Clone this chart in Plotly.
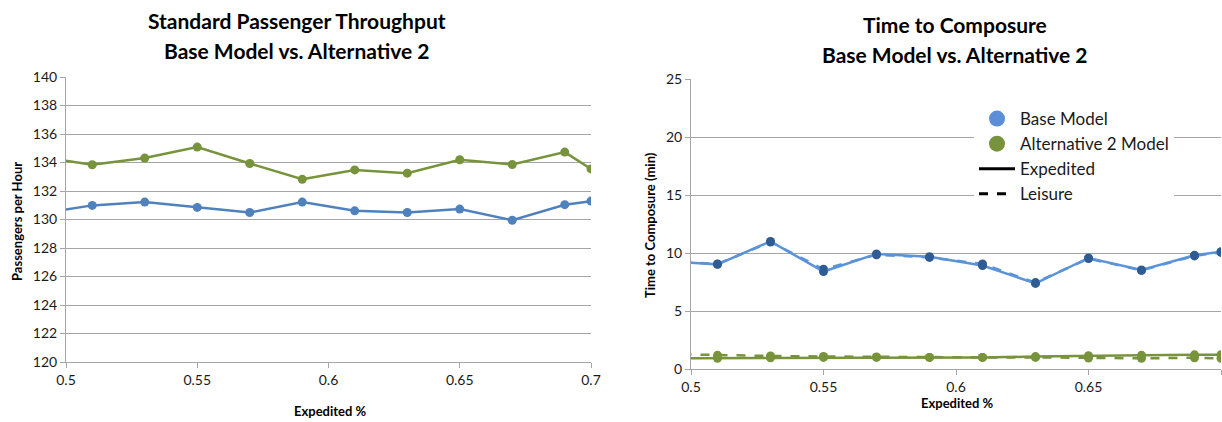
import plotly.graph_objects as go

# ---------------- data ----------------
expedited_pct = [0.49, 0.51, 0.53, 0.55, 0.57, 0.59, 0.61, 0.63, 0.65, 0.67, 0.69, 0.70]

# Standard passenger throughput (passengers per hour)
thr_base = [130.41, 130.99, 131.22, 130.85, 130.49, 131.22, 130.61, 130.49, 130.73, 129.95, 131.04, 131.29]
thr_alt2 = [134.40, 133.84, 134.31, 135.08, 133.93, 132.82, 133.48, 133.25, 134.19, 133.86, 134.73, 133.55]

# Time to composure (min)
ttc_base_exp = [9.32, 9.02, 11.00, 8.40, 9.92, 9.68, 8.92, 7.38, 9.57, 8.53, 9.80, 10.11]
ttc_base_lei = [9.30, 9.05, 10.95, 8.60, 9.85, 9.62, 9.05, 7.45, 9.52, 8.50, 9.75, 10.05]
ttc_alt2_exp = [0.92, 0.93, 0.97, 1.00, 1.00, 1.00, 1.00, 1.07, 1.15, 1.18, 1.22, 1.23]
ttc_alt2_lei = [1.30, 1.18, 1.12, 1.08, 1.04, 1.00, 1.00, 1.00, 0.95, 0.92, 0.97, 0.92]

x_ticks = [0.5, 0.55, 0.6, 0.65, 0.7]
x_ticklabels = ["0.5", "0.55", "0.6", "0.65", "0.7"]
thr_yticks = list(range(120, 141, 2))
ttc_yticks = [0, 5, 10, 15, 20, 25]

# ---------------- style ----------------
W, H = 1222, 422
BLUE = "#4F81BD"
BLUE_LINE_R = "#5B93D8"
BLUE_MARK_R = "#2F5C94"
GREEN = "#77933C"
GRID = "#A6A6A6"
FONT = "Lato"
TXT = "#1a1a1a"


def px_x(p):
    return p / W


def px_y(p):
    return 1 - p / H


fig = go.Figure()

# Left chart
fig.add_trace(go.Scatter(x=expedited_pct, y=thr_base, mode="lines+markers",
                         line=dict(color=BLUE, width=2.5), marker=dict(color=BLUE, size=9),
                         xaxis="x", yaxis="y", showlegend=False))
fig.add_trace(go.Scatter(x=expedited_pct, y=thr_alt2, mode="lines+markers",
                         line=dict(color=GREEN, width=2.5), marker=dict(color=GREEN, size=9),
                         xaxis="x", yaxis="y", showlegend=False))

# Right chart
fig.add_trace(go.Scatter(x=expedited_pct, y=ttc_alt2_lei, mode="lines+markers",
                         line=dict(color=GREEN, width=2.5, dash="dash"), marker=dict(color=GREEN, size=9),
                         xaxis="x2", yaxis="y2", showlegend=False))
fig.add_trace(go.Scatter(x=expedited_pct, y=ttc_alt2_exp, mode="lines+markers",
                         line=dict(color=GREEN, width=2.5), marker=dict(color=GREEN, size=9),
                         xaxis="x2", yaxis="y2", showlegend=False))
fig.add_trace(go.Scatter(x=expedited_pct, y=ttc_base_lei, mode="lines+markers",
                         line=dict(color=BLUE_LINE_R, width=2.5, dash="dash"), marker=dict(color=BLUE_MARK_R, size=9),
                         xaxis="x2", yaxis="y2", showlegend=False))
fig.add_trace(go.Scatter(x=expedited_pct, y=ttc_base_exp, mode="lines+markers",
                         line=dict(color=BLUE_LINE_R, width=2.5), marker=dict(color=BLUE_MARK_R, size=9),
                         xaxis="x2", yaxis="y2", showlegend=False))

# Legend entries
fig.add_trace(go.Scatter(x=[None], y=[None], mode="markers", name="Base Model",
                         marker=dict(color="#5B8ED6", size=18), xaxis="x2", yaxis="y2"))
fig.add_trace(go.Scatter(x=[None], y=[None], mode="markers", name="Alternative 2 Model",
                         marker=dict(color=GREEN, size=18), xaxis="x2", yaxis="y2"))
fig.add_trace(go.Scatter(x=[None], y=[None], mode="lines", name="Expedited",
                         line=dict(color="black", width=3), xaxis="x2", yaxis="y2"))
fig.add_trace(go.Scatter(x=[None], y=[None], mode="lines", name="Leisure",
                         line=dict(color="black", width=3, dash="dash"), xaxis="x2", yaxis="y2"))

axis_common = dict(showline=True, linecolor=GRID, linewidth=1, ticks="outside", ticklen=5,
                   tickcolor=GRID, tickfont=dict(family=FONT, size=14, color=TXT), zeroline=False,
                   automargin=False)

fig.update_layout(
    width=W, height=H,
    margin=dict(l=0, r=0, t=0, b=0, autoexpand=False),
    paper_bgcolor="white", plot_bgcolor="white",
    font=dict(family=FONT, color=TXT),
    xaxis=dict(domain=[px_x(66), px_x(591)], range=[0.5, 0.7], anchor="y",
               tickvals=x_ticks, ticktext=x_ticklabels, showgrid=False, **axis_common),
    yaxis=dict(domain=[px_y(362), px_y(77)], range=[120, 140], anchor="x",
               tickvals=thr_yticks, showgrid=True, gridcolor=GRID, gridwidth=1, **axis_common),
    xaxis2=dict(domain=[px_x(691), px_x(1221)], range=[0.5, 0.7], anchor="y2",
                tickvals=x_ticks, ticktext=x_ticklabels, showgrid=False, **axis_common),
    yaxis2=dict(domain=[px_y(369), px_y(79)], range=[0, 25], anchor="x2",
                tickvals=ttc_yticks, showgrid=True, gridcolor=GRID, gridwidth=1, **axis_common),
    legend=dict(x=px_x(974), y=px_y(101), xanchor="left", yanchor="top",
                bgcolor="white", borderwidth=0, tracegroupgap=0,
                font=dict(family=FONT, size=17, color=TXT), itemwidth=36),
)

annotations = [
    dict(text="<b>Standard Passenger Throughput</b>", x=px_x(297), y=px_y(20)),
    dict(text="<b>Base Model vs. Alternative 2</b>", x=px_x(297), y=px_y(51)),
    dict(text="<b>Time to Composure</b>", x=px_x(955), y=px_y(24)),
    dict(text="<b>Base Model vs. Alternative 2</b>", x=px_x(955), y=px_y(55)),
]
for a in annotations:
    a.update(xref="paper", yref="paper", xanchor="center", yanchor="middle", showarrow=False,
             font=dict(family=FONT, size=21, color="black"))

axis_titles = [
    dict(text="<b>Expedited %</b>", x=px_x(330), y=px_y(411), textangle=0),
    dict(text="<b>Expedited %</b>", x=px_x(957), y=px_y(403), textangle=0),
    dict(text="<b>Passengers per Hour</b>", x=px_x(17), y=px_y(222), textangle=-90),
    dict(text="<b>Time to Composure (min)</b>", x=px_x(650), y=px_y(225), textangle=-90),
]
for a in axis_titles:
    a.update(xref="paper", yref="paper", xanchor="center", yanchor="middle", showarrow=False,
             font=dict(family=FONT, size=13, color="black"))

fig.update_layout(annotations=annotations + axis_titles)

fig.write_html("out.html", config={"displayModeBar": False},
               post_script="document.body.style.margin='0';document.body.style.overflow='hidden';")
